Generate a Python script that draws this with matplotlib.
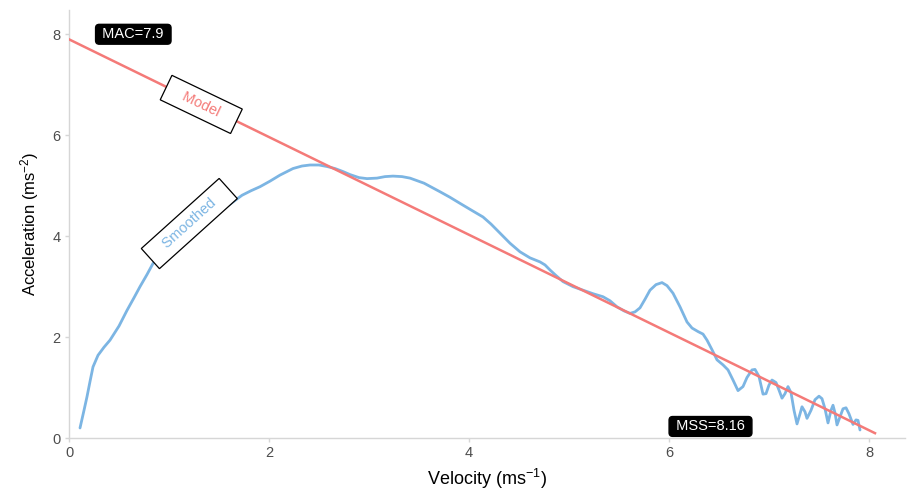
import matplotlib
matplotlib.use("Agg")
import matplotlib.pyplot as plt
import numpy as np

plt.rcParams['font.family'] = ['Liberation Sans', 'DejaVu Sans']
plt.rcParams['mathtext.default'] = 'regular'

# Model: linear force-velocity profile
MAC = 7.9
MSS = 8.16
model_v = [0.0, 8.06]
model_a = [MAC * (1 - v / MSS) for v in model_v]

# Smoothed acceleration vs velocity
smooth_v = [0.11, 0.15, 0.18, 0.21, 0.24, 0.29, 0.35, 0.41, 0.50, 0.58, 0.65, 0.71, 0.78, 0.84,
            1.00, 1.20, 1.40, 1.60, 1.73, 1.82, 1.91, 2.01, 2.11, 2.24, 2.33, 2.41, 2.50, 2.58,
            2.66, 2.74, 2.81, 2.90, 2.98, 3.08, 3.16, 3.24, 3.33, 3.41, 3.55, 3.71, 3.81, 3.91,
            4.02, 4.14, 4.22, 4.31, 4.41, 4.51, 4.61, 4.71, 4.76, 4.81, 4.87, 4.94, 5.04, 5.14,
            5.24, 5.34, 5.41, 5.48, 5.55, 5.61, 5.66, 5.71, 5.76, 5.81, 5.87, 5.93, 5.98, 6.04,
            6.11, 6.18, 6.23, 6.29, 6.34, 6.38, 6.43, 6.48, 6.54, 6.59, 6.64, 6.69, 6.74, 6.78,
            6.83, 6.86, 6.90, 6.94, 6.97, 7.00, 7.03, 7.07, 7.10, 7.13, 7.16, 7.19, 7.22, 7.25,
            7.28, 7.31, 7.33, 7.36, 7.38, 7.42, 7.46, 7.50, 7.53, 7.56, 7.59, 7.62, 7.64, 7.66,
            7.68, 7.71, 7.74, 7.77, 7.80, 7.84, 7.87, 7.89, 7.91]
smooth_a = [0.20, 0.55, 0.82, 1.12, 1.41, 1.64, 1.80, 1.94, 2.22, 2.53, 2.78, 3.00, 3.24, 3.46,
            3.76, 4.07, 4.36, 4.62, 4.81, 4.90, 4.98, 5.09, 5.21, 5.34, 5.39, 5.41, 5.41, 5.38,
            5.34, 5.28, 5.22, 5.16, 5.14, 5.15, 5.18, 5.19, 5.18, 5.15, 5.05, 4.88, 4.77, 4.65,
            4.52, 4.38, 4.24, 4.06, 3.86, 3.69, 3.57, 3.49, 3.43, 3.33, 3.22, 3.10, 3.00, 2.93,
            2.86, 2.80, 2.72, 2.60, 2.52, 2.47, 2.50, 2.58, 2.75, 2.93, 3.04, 3.08, 3.02, 2.87,
            2.60, 2.30, 2.18, 2.11, 2.06, 1.94, 1.75, 1.55, 1.45, 1.35, 1.15, 0.94, 1.02, 1.20,
            1.35, 1.36, 1.22, 0.87, 0.88, 1.05, 1.15, 1.10, 0.95, 0.79, 0.88, 1.02, 0.90, 0.55,
            0.28, 0.48, 0.62, 0.52, 0.39, 0.55, 0.76, 0.83, 0.78, 0.58, 0.30, 0.55, 0.65, 0.50,
            0.26, 0.42, 0.58, 0.60, 0.48, 0.27, 0.36, 0.35, 0.16]

x_ticks = [0, 2, 4, 6, 8]
y_ticks = [0, 2, 4, 6, 8]

red = '#f47a78'
blue = '#7cb5e3'

fig = plt.figure(figsize=(9.08, 4.90), dpi=100)
ax = fig.add_axes([0.076, 0.106, 0.9207, 0.8735])

ax.plot(smooth_v, smooth_a, color=blue, lw=2.0, solid_joinstyle='round', solid_capstyle='round', zorder=2)
ax.plot(model_v, model_a, color=red, lw=1.8, zorder=3)

ax.set_xlim(0, 8.36)
ax.set_ylim(0, 8.48)
ax.set_xticks(x_ticks)
ax.set_yticks(y_ticks)

for s in ['top', 'right']:
    ax.spines[s].set_visible(False)
for s in ['left', 'bottom']:
    ax.spines[s].set_color('#d6d6d6')
    ax.spines[s].set_linewidth(1.0)
ax.tick_params(axis='both', colors='#d6d6d6', length=3, width=1.0, labelsize=10.5,
               labelcolor='#4d4d4d', pad=3)

ax.set_xlabel('Velocity (ms$^{-1}$)', fontsize=13, color='black')
ax.xaxis.set_label_coords(0.5, -0.068)
ax.set_ylabel('Acceleration (ms$^{-2}$)', fontsize=12, color='black', labelpad=8)

# labels along curves
ax.text(1.3225, 6.61, '   Model   ', rotation=-25.6, rotation_mode='anchor', ha='center', va='center',
        color=red, fontsize=10.5, zorder=5,
        bbox=dict(boxstyle='square,pad=0.45', fc='white', ec='black', lw=0.9))
ax.text(1.203, 4.25, '   Smoothed   ', rotation=42, rotation_mode='anchor', ha='center', va='center',
        color=blue, fontsize=10.5, zorder=5,
        bbox=dict(boxstyle='square,pad=0.45', fc='white', ec='black', lw=0.9))

ax.text(0.643, 8.0, ' MAC=7.9 ', ha='center', va='center', color='white', fontsize=10.5, zorder=6,
        bbox=dict(boxstyle='round,pad=0.2,rounding_size=0.25', fc='black', ec='black'))
ax.text(6.415, 0.23, ' MSS=8.16 ', ha='center', va='center', color='white', fontsize=10.5, zorder=6,
        bbox=dict(boxstyle='round,pad=0.2,rounding_size=0.25', fc='black', ec='black'))

fig.savefig('out.png', dpi=100)
